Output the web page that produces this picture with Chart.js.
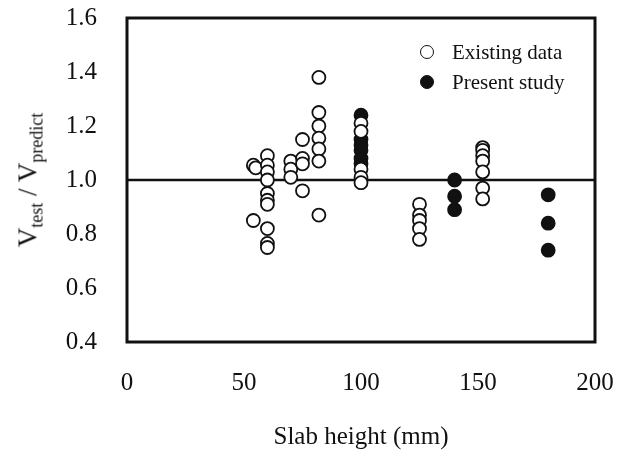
<!DOCTYPE html>
<html>
<head>
<meta charset="utf-8">
<script src="https://cdn.jsdelivr.net/npm/chart.js@4/dist/chart.umd.min.js"></script>
<style>
  body { margin: 0; background: #fff; }
  #wrap { position: relative; width: 629px; height: 456px; }
  #yTitle {
    position: absolute; left: 30px; top: 180px;
    transform: translate(-50%, -50%) rotate(-90deg);
    font-family: "Liberation Serif", serif; font-size: 27px; color: #111;
    white-space: nowrap;
  }
  #yTitle sub { font-size: 18px; vertical-align: -6px; }
  #legend {
    position: absolute; left: 420px; top: 37px;
    font-family: "Liberation Serif", serif; font-size: 21px; color: #111;
  }
  .row { height: 30px; display: flex; align-items: center; }
  .dot { width: 12px; height: 12px; border-radius: 50%; border: 1.8px solid #111; margin-right: 18px; box-sizing: content-box; }
  .dot.open { background: #fff; }
  .dot.fill { background: #111; }
</style>
</head>
<body>
<div id="wrap">
  <canvas id="chart" width="629" height="456"></canvas>
  <div id="yTitle">V<sub>test</sub> / V<sub>predict</sub></div>
  <div id="legend">
    <div class="row"><span class="dot open"></span>Existing data</div>
    <div class="row"><span class="dot fill"></span>Present study</div>
  </div>
</div>
<script>
// existing data (hollow markers)
const existingX = [54, 55, 54,
    60, 60, 60, 60, 60, 60, 60, 60, 60, 60,
    70, 70, 70,
    75, 75, 75, 75,
    82, 82, 82, 82, 82, 82, 82,
    100, 100, 100, 100, 100,
    125, 125, 125, 125, 125,
    152, 152, 152, 152, 152, 152, 152];
const existingY = [1.055, 1.045, 0.85,
    1.09, 1.055, 1.03, 1.00, 0.95, 0.925, 0.91, 0.82, 0.765, 0.75,
    1.07, 1.04, 1.01,
    1.15, 1.08, 1.06, 0.96,
    1.38, 1.25, 1.20, 1.155, 1.115, 1.07, 0.87,
    1.21, 1.18, 1.04, 1.01, 0.99,
    0.91, 0.87, 0.85, 0.82, 0.78,
    1.12, 1.11, 1.09, 1.07, 1.03, 0.97, 0.93];

// present study (filled markers)
const presentX = [100, 100, 100, 100, 100, 100, 140, 140, 140, 180, 180, 180];
const presentY = [1.24, 1.15, 1.13, 1.11, 1.08, 1.06, 1.00, 0.94, 0.89, 0.945, 0.84, 0.74];

// reference line Vtest / Vpredict = 1
const refX = [0, 200];
const refY = [1.0, 1.0];

const toPoints = (xs, ys) => xs.map((x, i) => ({ x: x, y: ys[i] }));

// draw the box round the plot area
const frame = {
    id: 'frame',
    afterDraw(chart) {
        const a = chart.chartArea;
        const ctx = chart.ctx;
        ctx.save();
        ctx.strokeStyle = '#111';
        ctx.lineWidth = 3;
        ctx.strokeRect(a.left, a.top, a.right - a.left, a.bottom - a.top);
        ctx.restore();
    }
};

// keep tick labels from pushing the plot area in
const noOverflow = scale => {
    scale.paddingTop = 0;
    scale.paddingBottom = 0;
    scale.paddingLeft = 0;
    scale.paddingRight = 0;
};

const serif = "'Liberation Serif', serif";

new Chart(document.getElementById('chart').getContext('2d'), {
    type: 'scatter',
    data: {
        datasets: [
            {
                label: 'Existing data',
                data: toPoints(existingX, existingY),
                pointStyle: 'circle',
                pointRadius: 6.5,
                pointBackgroundColor: '#fff',
                pointBorderColor: '#111',
                pointBorderWidth: 1.8
            },
            {
                label: 'Present study',
                data: toPoints(presentX, presentY),
                pointStyle: 'circle',
                pointRadius: 6.5,
                pointBackgroundColor: '#111',
                pointBorderColor: '#111',
                pointBorderWidth: 1.8
            },
            {
                type: 'line',
                label: 'ref',
                data: toPoints(refX, refY),
                borderColor: '#111',
                borderWidth: 2.5,
                pointRadius: 0,
                fill: false
            }
        ]
    },
    options: {
        responsive: false,
        animation: false,
        layout: { padding: { top: 18, right: 34, left: 0, bottom: 0 } },
        plugins: {
            legend: { display: false },
            tooltip: { enabled: false }
        },
        scales: {
            x: {
                type: 'linear',
                min: 0, max: 200,
                grid: { display: false, drawTicks: false },
                border: { display: false },
                ticks: {
                    stepSize: 50,
                    padding: 26,
                    maxRotation: 0,
                    color: '#111',
                    font: { family: serif, size: 25 }
                },
                title: {
                    display: true,
                    text: 'Slab height (mm)',
                    color: '#111',
                    font: { family: serif, size: 25 },
                    padding: { top: 0, bottom: 4 }
                },
                afterFit(scale) { scale.height = 114; noOverflow(scale); }
            },
            y: {
                type: 'linear',
                min: 0.4, max: 1.6,
                grid: { display: false, drawTicks: false },
                border: { display: false },
                ticks: {
                    stepSize: 0.2,
                    padding: 30,
                    color: '#111',
                    font: { family: serif, size: 25 },
                    callback: v => v.toFixed(1)
                },
                afterFit(scale) { scale.width = 127; noOverflow(scale); }
            }
        }
    },
    plugins: [frame]
});
</script>
</body>
</html>
